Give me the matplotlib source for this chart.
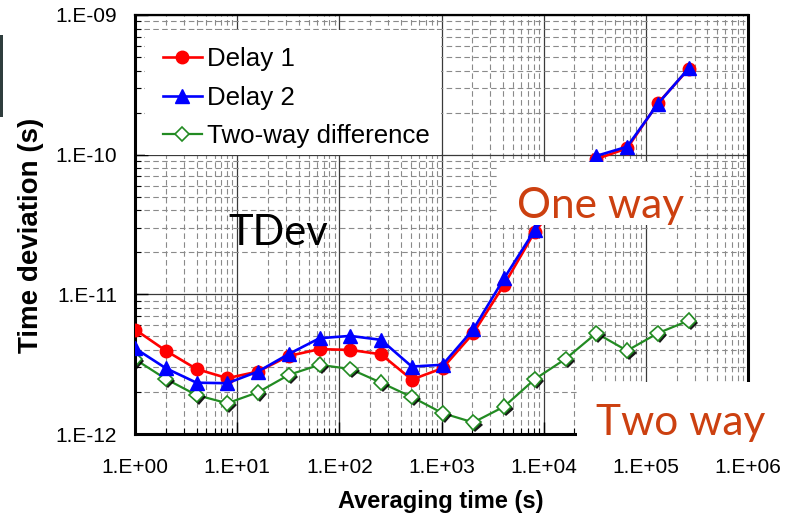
import matplotlib
matplotlib.use("Agg")
import matplotlib.pyplot as plt
import matplotlib.patheffects as pe
from matplotlib.patches import Rectangle
from matplotlib.lines import Line2D
from matplotlib.ticker import FixedLocator, FuncFormatter, NullFormatter
import numpy as np

# ---- data ----
tau = [2 ** k for k in range(19)]  # averaging time (s)
delay1 = [5.6e-12, 3.95e-12, 2.92e-12, 2.51e-12, 2.8e-12, 3.62e-12, 4.05e-12,
          4.0e-12, 3.72e-12, 2.45e-12, 2.96e-12, 5.27e-12, 1.17e-11, 2.81e-11,
          5.2e-11, 9.3e-11, 1.11e-10, 2.33e-10, 4.1e-10]
delay2 = [4.11e-12, 2.96e-12, 2.33e-12, 2.31e-12, 2.8e-12, 3.74e-12, 4.85e-12,
          5.04e-12, 4.72e-12, 3.04e-12, 3.13e-12, 5.62e-12, 1.3e-11, 2.89e-11,
          5.4e-11, 9.8e-11, 1.14e-10, 2.31e-10, 4.15e-10]
twoway = [3.43e-12, 2.48e-12, 1.9e-12, 1.66e-12, 1.99e-12, 2.65e-12, 3.13e-12,
          2.92e-12, 2.33e-12, 1.84e-12, 1.41e-12, 1.21e-12, 1.57e-12, 2.47e-12,
          3.45e-12, 5.27e-12, 3.95e-12, 5.27e-12, 6.48e-12]
labels = ["Delay 1", "Delay 2", "Two-way difference"]
xticks = [1e0, 1e1, 1e2, 1e3, 1e4, 1e5, 1e6]
yticks = [1e-12, 1e-11, 1e-10, 1e-9]

W, H = 801, 517
fig = plt.figure(figsize=(W / 100, H / 100), dpi=100)
L, R, T, B = 135, 748, 15, 434
ax = fig.add_axes([L / W, 1 - B / H, (R - L) / W, (B - T) / H])
ax.set_xscale("log")
ax.set_yscale("log")
ax.set_xlim(1, 1e6)
ax.set_ylim(1e-12, 1e-9)

font = "Liberation Sans"
fmt = FuncFormatter(lambda v, p: "1.E%+03d" % int(round(np.log10(v))))
ax.xaxis.set_major_locator(FixedLocator(xticks))
ax.yaxis.set_major_locator(FixedLocator(yticks))
ax.xaxis.set_major_formatter(fmt)
ax.yaxis.set_major_formatter(fmt)
ax.xaxis.set_minor_formatter(NullFormatter())
ax.yaxis.set_minor_formatter(NullFormatter())
for lab in ax.get_xticklabels() + ax.get_yticklabels():
    lab.set_fontfamily(font)
ax.tick_params(axis="both", which="major", direction="in", length=9, width=1,
               labelsize=15, colors="black")
ax.tick_params(axis="both", which="minor", direction="in", length=4.5, width=0.8)
ax.tick_params(axis="x", which="major", pad=17)
ax.tick_params(axis="y", which="major", pad=13)

ax.grid(True, which="major", color="#3a3a3a", linewidth=0.9)
ax.grid(True, which="minor", color="#8a8a8a", linewidth=0.8, linestyle=(0, (5, 3)))
ax.set_axisbelow(True)

for s, lw in (("left", 2.2), ("bottom", 2.2), ("top", 1.6), ("right", 2.2)):
    ax.spines[s].set_linewidth(lw)
    ax.spines[s].set_color("black")

green = "#228b22"
shadow = [pe.SimplePatchShadow(offset=(1.5, -1.5), shadow_rgbFace="black", alpha=0.9), pe.Normal()]
ax.plot(tau, twoway, color=green, lw=1.6, zorder=2)
ax.plot(tau, twoway, ls="none", marker="D", ms=7.5, mfc="white", mec=green, mew=1.2,
        zorder=2.1, path_effects=shadow)
l1, = ax.plot(tau, delay1, color="red", lw=1.9, marker="o", ms=9, mec="red", zorder=3)
l2, = ax.plot(tau, delay2, color="blue", lw=1.9, marker="^", ms=9.5, mec="blue", zorder=3.2)

l3 = Line2D([], [], color=green, lw=1.6, marker="D", ms=7, mfc="white", mec=green, mew=1.2)

def axx(px):
    return (px - L) / (R - L)

def axy(py):
    return (B - py) / (B - T)

# white boxes
ax.add_patch(Rectangle((axx(145), axy(155)), axx(441) - axx(145), axy(30) - axy(155),
                       transform=ax.transAxes, facecolor="white", edgecolor="none", zorder=5))
ax.add_patch(Rectangle((axx(497), axy(225)), axx(690) - axx(497), axy(162) - axy(225),
                       transform=ax.transAxes, facecolor="white", edgecolor="none", zorder=5))
ax.add_patch(Rectangle((axx(577), axy(448)), axx(810) - axx(577), axy(382) - axy(448),
                       transform=ax.transAxes, facecolor="white", edgecolor="none", zorder=5,
                       clip_on=False))

leg = ax.legend([l1, l2, l3], labels, loc="upper left",
                bbox_to_anchor=(axx(163), axy(47)), frameon=False,
                prop={"family": font, "size": 18.6}, handlelength=1.5,
                handletextpad=0.2, labelspacing=0.57, borderpad=0, borderaxespad=0)
leg.set_zorder(6)

orange = "#cc4010"
ax.text(axx(601), axy(218), "One way", transform=ax.transAxes, ha="center", va="baseline",
        fontsize=30.5, color=orange, family="Lato", zorder=7)
ax.text(axx(681), axy(435), "Two way", transform=ax.transAxes, ha="center", va="baseline",
        fontsize=30.5, color=orange, family="Lato", zorder=7, clip_on=False)
ax.text(axx(278.5), axy(245), "TDev", transform=ax.transAxes, ha="center", va="baseline",
        fontsize=30, color="black", family="Lato", zorder=7)

fig.text(440.5 / W, (H - 508) / H, "Averaging time (s)", ha="center", va="baseline",
         fontsize=17, fontweight="bold", family=font)
fig.text(31 / W, (H - 235.5) / H, "Time deviation (s)", ha="center", va="center",
         rotation=90, fontsize=20, fontweight="bold", family=font)

fig.patches.append(Rectangle((0, (H - 117) / H), 2.5 / W, 82 / H, transform=fig.transFigure,
                             facecolor="#2f3d3d", edgecolor="none"))

fig.savefig("out.png", dpi=100)
